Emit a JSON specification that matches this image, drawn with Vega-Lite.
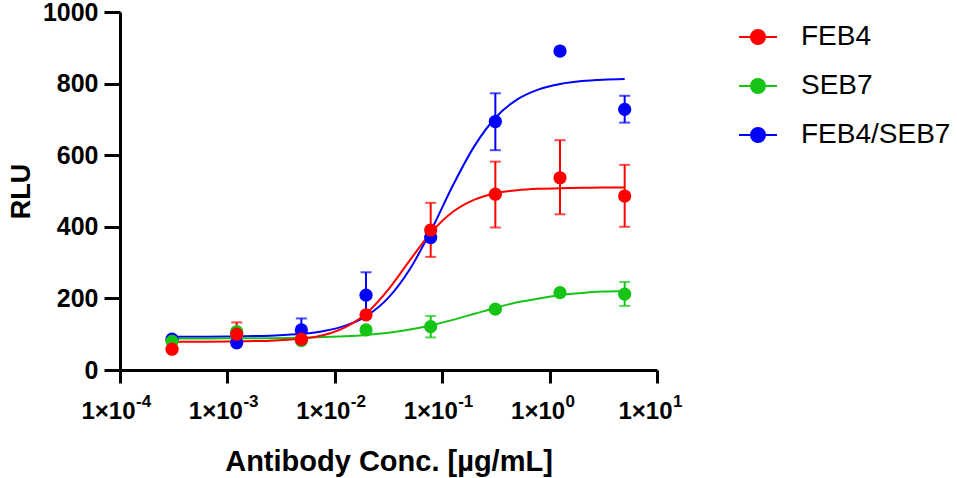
{
  "$schema": "https://vega.github.io/schema/vega-lite/v6.json",
  "description": "Antibody dose response, RLU vs concentration",
  "autosize": {"type": "none"},
  "padding": {"left": 120, "top": 12, "right": 300, "bottom": 108},
  "width": 537,
  "height": 358,
  "background": "white",
  "config": {
    "view": {"stroke": null},
    "font": "Liberation Sans",
    "axis": {
      "grid": false,
      "domainColor": "black",
      "domainWidth": 3,
      "tickColor": "black",
      "tickWidth": 3,
      "labelColor": "black",
      "labelFont": "Liberation Sans",
      "labelFontWeight": "bold",
      "titleFont": "Liberation Sans",
      "titleFontWeight": "bold",
      "titleColor": "black"
    }
  },
  "datasets": {
    "pts": [
      {"s": "FEB4/SEB7", "x": 0.00030518, "y": 86},
      {"s": "FEB4/SEB7", "x": 0.0012207, "y": 76},
      {"s": "FEB4/SEB7", "x": 0.0048828, "y": 112, "lo": 80, "hi": 144},
      {"s": "FEB4/SEB7", "x": 0.01953125, "y": 209, "lo": 146, "hi": 273},
      {"s": "FEB4/SEB7", "x": 0.078125, "y": 370},
      {"s": "FEB4/SEB7", "x": 0.3125, "y": 694, "lo": 614, "hi": 773},
      {"s": "FEB4/SEB7", "x": 1.25, "y": 891},
      {"s": "FEB4/SEB7", "x": 5, "y": 728, "lo": 691, "hi": 766},
      {"s": "SEB7", "x": 0.00030518, "y": 80},
      {"s": "SEB7", "x": 0.0012207, "y": 107},
      {"s": "SEB7", "x": 0.0048828, "y": 82},
      {"s": "SEB7", "x": 0.01953125, "y": 112},
      {"s": "SEB7", "x": 0.078125, "y": 121, "lo": 91, "hi": 151},
      {"s": "SEB7", "x": 0.3125, "y": 170},
      {"s": "SEB7", "x": 1.25, "y": 216},
      {"s": "SEB7", "x": 5, "y": 212, "lo": 179, "hi": 246},
      {"s": "FEB4", "x": 0.00030518, "y": 58},
      {"s": "FEB4", "x": 0.0012207, "y": 100, "lo": 67, "hi": 133},
      {"s": "FEB4", "x": 0.0048828, "y": 86},
      {"s": "FEB4", "x": 0.01953125, "y": 154},
      {"s": "FEB4", "x": 0.078125, "y": 391, "lo": 316, "hi": 467},
      {"s": "FEB4", "x": 0.3125, "y": 491, "lo": 398, "hi": 582},
      {"s": "FEB4", "x": 1.25, "y": 537, "lo": 435, "hi": 642},
      {"s": "FEB4", "x": 5, "y": 486, "lo": 400, "hi": 573}
    ],
    "fit": [
      {"s": "FEB4/SEB7", "x": 0.0003, "y": 93},
      {"s": "FEB4/SEB7", "x": 0.00063, "y": 93},
      {"s": "FEB4/SEB7", "x": 0.00126, "y": 94},
      {"s": "FEB4/SEB7", "x": 0.00251, "y": 96},
      {"s": "FEB4/SEB7", "x": 0.00501, "y": 101},
      {"s": "FEB4/SEB7", "x": 0.00794, "y": 109},
      {"s": "FEB4/SEB7", "x": 0.0126, "y": 124},
      {"s": "FEB4/SEB7", "x": 0.02, "y": 152},
      {"s": "FEB4/SEB7", "x": 0.0316, "y": 202},
      {"s": "FEB4/SEB7", "x": 0.0501, "y": 282},
      {"s": "FEB4/SEB7", "x": 0.0794, "y": 392},
      {"s": "FEB4/SEB7", "x": 0.126, "y": 516},
      {"s": "FEB4/SEB7", "x": 0.2, "y": 626},
      {"s": "FEB4/SEB7", "x": 0.316, "y": 706},
      {"s": "FEB4/SEB7", "x": 0.501, "y": 756},
      {"s": "FEB4/SEB7", "x": 0.794, "y": 784},
      {"s": "FEB4/SEB7", "x": 1.26, "y": 799},
      {"s": "FEB4/SEB7", "x": 2.0, "y": 807},
      {"s": "FEB4/SEB7", "x": 3.16, "y": 811},
      {"s": "FEB4/SEB7", "x": 5.0, "y": 813},
      {"s": "SEB7", "x": 0.0003, "y": 88},
      {"s": "SEB7", "x": 0.00063, "y": 88},
      {"s": "SEB7", "x": 0.00126, "y": 89},
      {"s": "SEB7", "x": 0.00251, "y": 89},
      {"s": "SEB7", "x": 0.00501, "y": 90},
      {"s": "SEB7", "x": 0.00794, "y": 92},
      {"s": "SEB7", "x": 0.0126, "y": 94},
      {"s": "SEB7", "x": 0.02, "y": 98},
      {"s": "SEB7", "x": 0.0316, "y": 104},
      {"s": "SEB7", "x": 0.0501, "y": 113},
      {"s": "SEB7", "x": 0.0794, "y": 125},
      {"s": "SEB7", "x": 0.126, "y": 140},
      {"s": "SEB7", "x": 0.2, "y": 157},
      {"s": "SEB7", "x": 0.316, "y": 174},
      {"s": "SEB7", "x": 0.501, "y": 189},
      {"s": "SEB7", "x": 0.794, "y": 200},
      {"s": "SEB7", "x": 1.26, "y": 209},
      {"s": "SEB7", "x": 2.0, "y": 215},
      {"s": "SEB7", "x": 3.16, "y": 219},
      {"s": "SEB7", "x": 5.0, "y": 221},
      {"s": "FEB4", "x": 0.0003, "y": 79},
      {"s": "FEB4", "x": 0.00063, "y": 79},
      {"s": "FEB4", "x": 0.00126, "y": 80},
      {"s": "FEB4", "x": 0.00251, "y": 82},
      {"s": "FEB4", "x": 0.00501, "y": 88},
      {"s": "FEB4", "x": 0.00794, "y": 98},
      {"s": "FEB4", "x": 0.0126, "y": 120},
      {"s": "FEB4", "x": 0.02, "y": 160},
      {"s": "FEB4", "x": 0.0316, "y": 225},
      {"s": "FEB4", "x": 0.0501, "y": 307},
      {"s": "FEB4", "x": 0.0794, "y": 385},
      {"s": "FEB4", "x": 0.126, "y": 442},
      {"s": "FEB4", "x": 0.2, "y": 476},
      {"s": "FEB4", "x": 0.316, "y": 494},
      {"s": "FEB4", "x": 0.501, "y": 502},
      {"s": "FEB4", "x": 0.794, "y": 506},
      {"s": "FEB4", "x": 1.26, "y": 508},
      {"s": "FEB4", "x": 2.0, "y": 509},
      {"s": "FEB4", "x": 3.16, "y": 510},
      {"s": "FEB4", "x": 5.0, "y": 510}
    ],
    "exps": [
      {"x": 0.0001, "e": "-4"},
      {"x": 0.001, "e": "-3"},
      {"x": 0.01, "e": "-2"},
      {"x": 0.1, "e": "-1"},
      {"x": 1, "e": "0"},
      {"x": 10, "e": "1"}
    ]
  },
  "encoding": {
    "color": {
      "field": "s",
      "type": "nominal",
      "scale": {
        "domain": ["FEB4", "SEB7", "FEB4/SEB7"],
        "range": ["#ff0000", "#16c416", "#0000ff"]
      },
      "legend": {
        "title": null,
        "orient": "none",
        "legendX": 618,
        "legendY": 5,
        "padding": 0,
        "symbolType": "M-1,0L1,0M-0.37,0A0.37,0.37,0,1,1,0.37,0A0.37,0.37,0,1,1,-0.37,0Z",
        "symbolSize": 1444,
        "symbolStrokeWidth": 2,
        "symbolOpacity": 1,
        "labelFont": "Liberation Sans",
        "labelFontSize": 28,
        "labelColor": "black",
        "labelOffset": 23,
        "rowPadding": 15,
        "labelLimit": 300,
        "encode": {
          "symbols": {
            "update": {
              "fill": {"scale": "color", "field": "value"},
              "stroke": {"scale": "color", "field": "value"},
              "strokeWidth": {"value": 2},
              "opacity": {"value": 1}
            }
          }
        }
      }
    }
  },
  "layer": [
    {
      "data": {"name": "pts"},
      "transform": [{"filter": "isValid(datum.hi)"}],
      "mark": {"type": "rule", "strokeWidth": 2},
      "encoding": {
        "x": {"field": "x", "type": "quantitative", "scale": {"type": "log", "domain": [0.0001, 10], "nice": false}},
        "y": {"field": "lo", "type": "quantitative"},
        "y2": {"field": "hi"}
      }
    },
    {
      "data": {"name": "pts"},
      "transform": [{"filter": "isValid(datum.hi)"}],
      "mark": {"type": "tick", "orient": "horizontal", "size": 11, "thickness": 2},
      "encoding": {
        "x": {"field": "x", "type": "quantitative"},
        "y": {"field": "hi", "type": "quantitative"}
      }
    },
    {
      "data": {"name": "pts"},
      "transform": [{"filter": "isValid(datum.lo)"}],
      "mark": {"type": "tick", "orient": "horizontal", "size": 11, "thickness": 2},
      "encoding": {
        "x": {"field": "x", "type": "quantitative"},
        "y": {"field": "lo", "type": "quantitative"}
      }
    },
    {
      "data": {"name": "fit"},
      "mark": {"type": "line", "strokeWidth": 2, "interpolate": "monotone"},
      "encoding": {
        "x": {"field": "x", "type": "quantitative"},
        "y": {"field": "y", "type": "quantitative"}
      }
    },
    {
      "data": {"name": "pts"},
      "mark": {"type": "point", "filled": true, "opacity": 1, "size": 175},
      "encoding": {
        "x": {
          "field": "x",
          "type": "quantitative",
          "scale": {"type": "log", "domain": [0.0001, 10], "nice": false},
          "axis": {
            "values": [0.0001, 0.001, 0.01, 0.1, 1, 10],
            "labelExpr": "'1×10'",
            "labelOffset": -12,
            "tickSize": 13,
            "labelFontSize": 24,
            "labelPadding": 16,
            "labelFlush": false,
            "title": "Antibody Conc. [µg/mL]",
            "titleFontSize": 29,
            "titlePadding": 24
          }
        },
        "y": {
          "field": "y",
          "type": "quantitative",
          "scale": {"domain": [0, 1000], "nice": false, "zero": true},
          "axis": {
            "values": [0, 200, 400, 600, 800, 1000],
            "format": "d",
            "tickSize": 16,
            "labelFontSize": 25,
            "labelPadding": 6,
            "title": "RLU",
            "titleFontSize": 27,
            "titlePadding": 7
          }
        }
      }
    },
    {
      "data": {"name": "exps"},
      "mark": {
        "type": "text",
        "align": "left",
        "baseline": "alphabetic",
        "dx": 16,
        "dy": 37,
        "font": "Liberation Sans",
        "fontWeight": "bold",
        "fontSize": 17
      },
      "encoding": {
        "x": {"field": "x", "type": "quantitative"},
        "y": {"datum": 0, "type": "quantitative"},
        "text": {"field": "e"},
        "color": {"value": "black"}
      }
    }
  ]
}
